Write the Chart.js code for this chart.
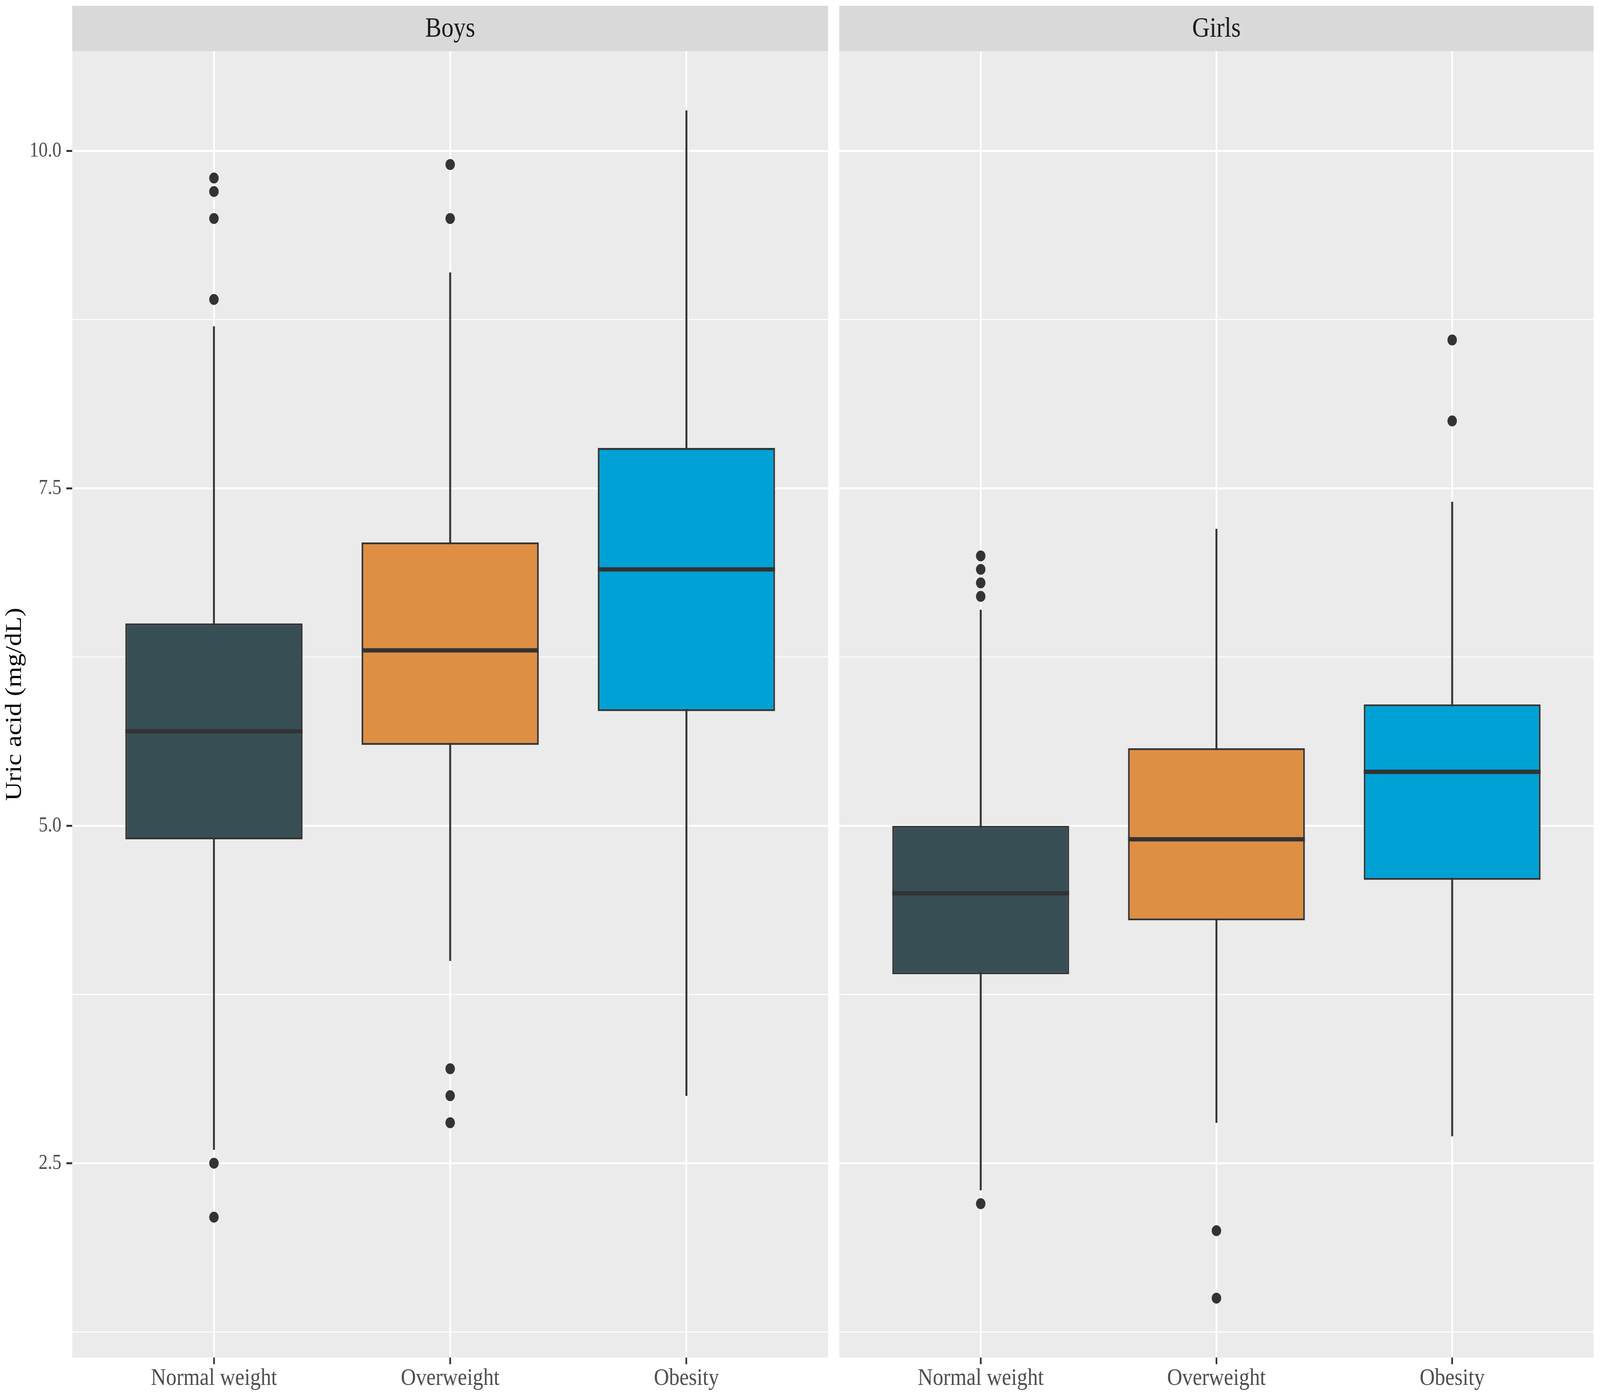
<!DOCTYPE html>
<html>
<head>
<meta charset="utf-8">
<script src="https://cdn.jsdelivr.net/npm/chart.js@4.4.1/dist/chart.umd.min.js"></script>
<style>
  html, body { margin: 0; padding: 0; background: #ffffff; overflow: hidden; }
  #wrap { position: relative; width: 100vw; height: 100vh; }
  canvas { position: absolute; top: 0; }
</style>
</head>
<body>
<div id="wrap">
  <canvas id="boys" width="2470" height="3577" style="left:0; width:52.0657%; height:100%;"></canvas>
  <canvas id="girls" width="2274" height="3577" style="left:52.0657%; width:47.9343%; height:100%;"></canvas>
</div>
<script>
"use strict";

// categories and facets
var categories = ["Normal weight", "Overweight", "Obesity"];
var panelTitles = ["Boys", "Girls"];
var groupColors = ["#374E55", "#DF8F44", "#00A1D5"];

// Boys box statistics (mg/dL)
var boysLow = [2.6, 4.0, 3.0];
var boysQ1 = [4.9, 5.6, 5.85];
var boysMedian = [5.7, 6.3, 6.9];
var boysQ3 = [6.5, 7.1, 7.8];
var boysHigh = [8.7, 9.1, 10.3];
var boysOutliers = [[9.8, 9.7, 9.5, 8.9, 2.5, 2.1], [9.9, 9.5, 3.2, 3.0, 2.8], []];

// Girls box statistics (mg/dL)
var girlsLow = [2.3, 2.8, 2.7];
var girlsQ1 = [3.9, 4.3, 4.6];
var girlsMedian = [4.5, 4.9, 5.4];
var girlsQ3 = [5.0, 5.575, 5.9];
var girlsHigh = [6.6, 7.2, 7.4];
var girlsOutliers = [[7.0, 6.9, 6.8, 6.7, 2.2], [2.0, 1.5], [8.6, 8.0]];

// y axis
var yTicks = [2.5, 5.0, 7.5, 10.0];
var yMinorTicks = [1.25, 3.75, 6.25, 8.75];
var yMin = 1.06;
var yMax = 10.74;

var serif = "'Liberation Serif', 'Times New Roman', serif";
var yGrid = yTicks.concat(yMinorTicks).sort(function (a, b) { return a - b; });

/* panel background, strip and median lines */
var facetPlugin = {
  id: "facet",
  beforeDraw: function (chart, args, opts) {
    var ctx = chart.ctx, a = chart.chartArea;
    ctx.save();
    ctx.fillStyle = "#EBEBEB";
    ctx.fillRect(a.left, a.top, a.right - a.left, a.bottom - a.top);
    ctx.fillStyle = "#D9D9D9";
    ctx.fillRect(a.left, 15, a.right - a.left, a.top - 15);
    ctx.fillStyle = "#1A1A1A";
    ctx.font = "72px " + serif;
    ctx.textAlign = "center";
    ctx.textBaseline = "middle";
    ctx.fillText(opts.title, (a.left + a.right) / 2, (15 + a.top) / 2 + 2);
    ctx.restore();
  },
  afterDatasetsDraw: function (chart, args, opts) {
    var ctx = chart.ctx, y = chart.scales.y;
    var boxes = chart.getDatasetMeta(0).data;
    ctx.save();
    ctx.strokeStyle = "#333333";
    ctx.lineWidth = 11;
    opts.median.forEach(function (m, i) {
      var bar = boxes[i];
      var py = y.getPixelForValue(m);
      ctx.beginPath();
      ctx.moveTo(bar.x - bar.width / 2, py);
      ctx.lineTo(bar.x + bar.width / 2, py);
      ctx.stroke();
    });
    ctx.restore();
  }
};

function makePanel(canvasId, title, low, q1, median, q3, high, outliers, showY) {
  var boxData = categories.map(function (c, i) { return { x: i + 1, y: [q1[i], q3[i]] }; });
  var whiskerData = categories.map(function (c, i) { return { x: i + 1, y: [low[i], high[i]] }; });
  var outlierData = [];
  outliers.forEach(function (list, i) {
    list.forEach(function (v) { outlierData.push({ x: i + 1, y: v }); });
  });

  return new Chart(document.getElementById(canvasId), {
    type: "bar",
    data: {
      datasets: [
        {
          data: boxData,
          order: 1,
          grouped: false,
          backgroundColor: groupColors,
          borderColor: "#333333",
          borderWidth: 5,
          borderSkipped: false,
          barPercentage: 0.75,
          categoryPercentage: 1
        },
        {
          data: whiskerData,
          order: 2,
          grouped: false,
          backgroundColor: "#333333",
          borderWidth: 0,
          barThickness: 5
        },
        {
          type: "scatter",
          data: outlierData,
          order: 0,
          pointRadius: 14,
          pointBackgroundColor: "#333333",
          pointBorderWidth: 0
        }
      ]
    },
    options: {
      responsive: false,
      animation: false,
      devicePixelRatio: 1,
      layout: { padding: { top: 131, right: showY ? 15 : 19, left: 0, bottom: 0 } },
      plugins: {
        legend: { display: false },
        tooltip: { enabled: false },
        facet: { title: title, median: median }
      },
      scales: {
        x: {
          type: "linear",
          min: 0.4,
          max: 3.6,
          offset: false,
          afterBuildTicks: function (s) {
            s.ticks = categories.map(function (c, i) { return { value: i + 1 }; });
          },
          afterFit: function (s) { s.height = 101; },
          border: { display: false },
          grid: {
            offset: false,
            color: "#FFFFFF",
            lineWidth: 5,
            tickColor: "#333333",
            tickWidth: 5,
            tickLength: 17
          },
          ticks: {
            autoSkip: false,
            maxRotation: 0,
            padding: 0,
            color: "#4D4D4D",
            font: { family: serif, size: 62 },
            callback: function (v) { return categories[v - 1]; }
          }
        },
        y: {
          type: "linear",
          min: yMin,
          max: yMax,
          afterBuildTicks: function (s) {
            s.ticks = yGrid.map(function (v) { return { value: v }; });
          },
          afterFit: function (s) { s.width = showY ? 214 : 18; },
          border: { display: false },
          title: {
            display: showY,
            text: "Uric acid (mg/dL)",
            color: "#000000",
            font: { family: serif, size: 68 },
            padding: { top: 3, bottom: 0 }
          },
          grid: {
            color: "#FFFFFF",
            drawTicks: showY,
            lineWidth: function (c) { return yTicks.indexOf(c.tick.value) >= 0 ? 5 : 2.5; },
            tickColor: function (c) { return yTicks.indexOf(c.tick.value) >= 0 ? "#333333" : "rgba(0,0,0,0)"; },
            tickWidth: 5,
            tickLength: 17
          },
          ticks: {
            display: showY,
            padding: 15,
            color: "#4D4D4D",
            font: { family: serif, size: 54 },
            callback: function (v) { return yTicks.indexOf(v) >= 0 ? v.toFixed(1) : ""; }
          }
        }
      }
    },
    plugins: [facetPlugin]
  });
}

makePanel("boys", panelTitles[0], boysLow, boysQ1, boysMedian, boysQ3, boysHigh, boysOutliers, true);
makePanel("girls", panelTitles[1], girlsLow, girlsQ1, girlsMedian, girlsQ3, girlsHigh, girlsOutliers, false);
</script>
</body>
</html>
